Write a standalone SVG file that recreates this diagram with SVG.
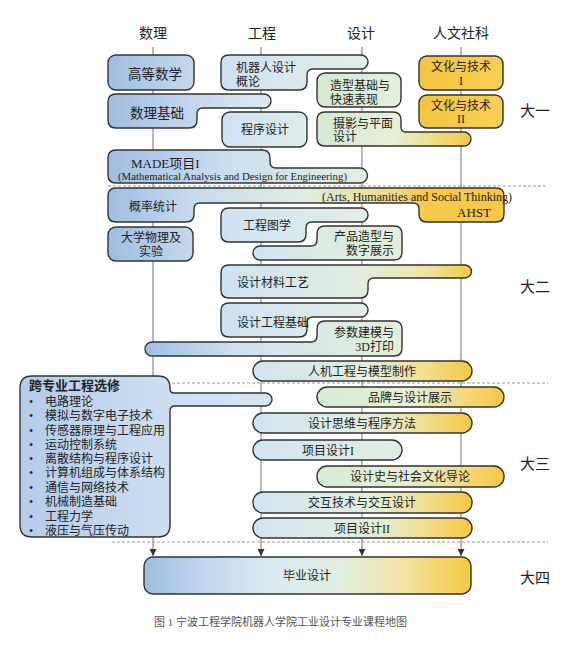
<svg xmlns="http://www.w3.org/2000/svg" width="586" height="652" viewBox="0 0 586 652">
<style>
.bx{stroke:#333;stroke-width:1.4}
.t{font-family:"Liberation Serif","Noto Sans CJK SC",sans-serif;font-size:12px;fill:#222}
.c{text-anchor:middle}
.e{text-anchor:end}
.h{font-size:14px}
.yr{font-size:15px}
.vl{stroke:#8a8a8a;stroke-width:1.2;fill:none}
.ds{stroke:#9a9a9a;stroke-width:1;stroke-dasharray:3 2;fill:none}
</style>
<defs>
<marker id="ah" viewBox="0 0 8 8" refX="8" refY="4" markerWidth="7" markerHeight="7" markerUnits="userSpaceOnUse" orient="auto"><path d="M0,0 L8,4 L0,8 z" fill="#333"/></marker>
<linearGradient id="gMath" x1="0" x2="1" y1="0" y2="0"><stop offset="0" stop-color="#9fbde2"/><stop offset="1" stop-color="#c4d8ee"/></linearGradient>
<linearGradient id="gEng" x1="0" x2="1" y1="0" y2="0"><stop offset="0" stop-color="#cfe2f3"/><stop offset="1" stop-color="#e0ecea"/></linearGradient>
<linearGradient id="gDes" x1="0" x2="1" y1="0" y2="0"><stop offset="0" stop-color="#d4e9d2"/><stop offset="1" stop-color="#e4f0dc"/></linearGradient>
<linearGradient id="gYel" x1="0" x2="1" y1="0" y2="0"><stop offset="0" stop-color="#f5c441"/><stop offset="1" stop-color="#f9cf57"/></linearGradient>
<linearGradient id="gRobot" gradientUnits="userSpaceOnUse" x1="221" x2="368" y1="0" y2="0"><stop offset="0" stop-color="#cde1f3"/><stop offset="1" stop-color="#e4efe5"/></linearGradient>
<linearGradient id="gShuli" gradientUnits="userSpaceOnUse" x1="108" x2="271" y1="0" y2="0"><stop offset="0" stop-color="#9fbde2"/><stop offset="0.5" stop-color="#c2d7ed"/><stop offset="1" stop-color="#dce9f3"/></linearGradient>
<linearGradient id="gMade" gradientUnits="userSpaceOnUse" x1="108" x2="367" y1="0" y2="0"><stop offset="0" stop-color="#9fbde2"/><stop offset="0.45" stop-color="#cadef0"/><stop offset="1" stop-color="#e3efe0"/></linearGradient>
<linearGradient id="gSheying" gradientUnits="userSpaceOnUse" x1="317" x2="471" y1="0" y2="0"><stop offset="0" stop-color="#d5e9d3"/><stop offset="0.5" stop-color="#e6f0d6"/><stop offset="0.8" stop-color="#f3d97a"/><stop offset="1" stop-color="#f6c843"/></linearGradient>
<linearGradient id="gGailv" gradientUnits="userSpaceOnUse" x1="108" x2="504" y1="0" y2="0"><stop offset="0" stop-color="#9fbde2"/><stop offset="0.22" stop-color="#c8dcef"/><stop offset="0.5" stop-color="#dfede2"/><stop offset="0.72" stop-color="#f1dc86"/><stop offset="0.8" stop-color="#f6c94b"/><stop offset="1" stop-color="#f7c845"/></linearGradient>
<linearGradient id="gGctx" gradientUnits="userSpaceOnUse" x1="221" x2="368" y1="0" y2="0"><stop offset="0" stop-color="#cfe2f3"/><stop offset="1" stop-color="#e2eee6"/></linearGradient>
<linearGradient id="gChanpin" gradientUnits="userSpaceOnUse" x1="253" x2="402" y1="0" y2="0"><stop offset="0" stop-color="#cee2f3"/><stop offset="0.5" stop-color="#dcebe2"/><stop offset="1" stop-color="#e2efd8"/></linearGradient>
<linearGradient id="gCailiao" gradientUnits="userSpaceOnUse" x1="221" x2="472" y1="0" y2="0"><stop offset="0" stop-color="#cfe2f3"/><stop offset="0.55" stop-color="#e0ede0"/><stop offset="0.8" stop-color="#eee7a9"/><stop offset="1" stop-color="#f6c843"/></linearGradient>
<linearGradient id="gCanshu" gradientUnits="userSpaceOnUse" x1="145" x2="402" y1="0" y2="0"><stop offset="0" stop-color="#a1bee3"/><stop offset="0.35" stop-color="#cfe1f1"/><stop offset="1" stop-color="#e2efd9"/></linearGradient>
<linearGradient id="gRenji" gradientUnits="userSpaceOnUse" x1="253" x2="472" y1="0" y2="0"><stop offset="0" stop-color="#d2e4f3"/><stop offset="0.55" stop-color="#e2efdc"/><stop offset="0.8" stop-color="#f2dd8a"/><stop offset="1" stop-color="#f6c843"/></linearGradient>
<linearGradient id="gKua" gradientUnits="userSpaceOnUse" x1="20" x2="272" y1="0" y2="0"><stop offset="0" stop-color="#b3cce9"/><stop offset="0.5" stop-color="#cadcf0"/><stop offset="1" stop-color="#d6e6f2"/></linearGradient>
<linearGradient id="gPinpai" gradientUnits="userSpaceOnUse" x1="317" x2="504" y1="0" y2="0"><stop offset="0" stop-color="#d6ead3"/><stop offset="0.5" stop-color="#e6f0d6"/><stop offset="0.8" stop-color="#f3d97a"/><stop offset="1" stop-color="#f6c843"/></linearGradient>
<linearGradient id="gXm1" gradientUnits="userSpaceOnUse" x1="253" x2="402" y1="0" y2="0"><stop offset="0" stop-color="#d2e4f3"/><stop offset="1" stop-color="#e0eee0"/></linearGradient>
<linearGradient id="gBiye" gradientUnits="userSpaceOnUse" x1="144" x2="471" y1="0" y2="0"><stop offset="0" stop-color="#9fbde2"/><stop offset="0.2" stop-color="#c4d9ee"/><stop offset="0.4" stop-color="#dbe9f2"/><stop offset="0.6" stop-color="#e0efe0"/><stop offset="0.8" stop-color="#f3e2a0"/><stop offset="1" stop-color="#f7c843"/></linearGradient>
</defs>
<rect width="586" height="652" fill="#fff"/>

<g id="headers" class="t h">
<text x="153" y="38" class="c">数理</text>
<text x="262" y="38" class="c">工程</text>
<text x="361" y="38" class="c">设计</text>
<text x="461" y="38" class="c">人文社科</text>
</g>

<g id="separators">
<line class="ds" x1="108" y1="186" x2="548" y2="186"/>
<line class="ds" x1="112" y1="383" x2="548" y2="383"/>
<line class="ds" x1="112" y1="542" x2="548" y2="542"/>
</g>

<g id="connectors">
<line class="vl" x1="153" y1="47" x2="153" y2="556" marker-end="url(#ah)"/>
<line class="vl" x1="261" y1="47" x2="261" y2="556" marker-end="url(#ah)"/>
<line class="vl" x1="362" y1="47" x2="362" y2="556" marker-end="url(#ah)"/>
<line class="vl" x1="461" y1="47" x2="461" y2="556" marker-end="url(#ah)"/>
</g>

<g id="gaodengshuxue"><rect class="bx" x="108" y="55" width="86" height="35" rx="8" fill="url(#gMath)"/><text class="t c" x="155" y="79" style="font-size:13.5px">高等数学</text></g>
<g id="jiqiren"><path class="bx" fill="url(#gRobot)" d="M229,55 H361 A7,7 0 0 1 361,69 H313 Q307,69 307,75 V82 Q307,90 299,90 H229 Q221,90 221,82 V63 Q221,55 229,55 Z"/><text class="t" x="236" y="72">机器人设计</text><text class="t" x="236" y="86">概论</text></g>
<g id="zaoxing"><rect class="bx" x="317" y="73" width="84" height="34" rx="8" fill="url(#gDes)"/><text class="t" x="330" y="90">造型基础与</text><text class="t" x="330" y="104">快速表现</text></g>
<g id="wenhua1"><rect class="bx" x="419" y="56" width="84" height="34" rx="8" fill="url(#gYel)"/><text class="t c" x="461" y="71">文化与技术</text><text class="t c" x="461" y="85">I</text></g>
<g id="wenhua2"><rect class="bx" x="419" y="95" width="84" height="33" rx="8" fill="url(#gYel)"/><text class="t c" x="461" y="110">文化与技术</text><text class="t c" x="461" y="123">II</text></g>
<g id="shulijichu"><path class="bx" fill="url(#gShuli)" d="M116,94 H264 A7,7 0 0 1 264,108 H203 Q197,108 197,114 V120 Q197,128 189,128 H116 Q108,128 108,120 V102 Q108,94 116,94 Z"/><text class="t" x="130" y="118" style="font-size:13.5px">数理基础</text></g>
<g id="chengxusheji"><rect class="bx" x="222" y="112" width="85" height="35" rx="8" fill="url(#gEng)"/><text class="t c" x="265" y="134">程序设计</text></g>
<g id="sheying"><path class="bx" fill="url(#gSheying)" d="M325,112 H393 Q401,112 401,120 V127 Q401,132 406,132 H464 A7,7 0 0 1 464,146 H325 Q317,146 317,138 V120 Q317,112 325,112 Z"/><text class="t" x="333" y="128">摄影与平面</text><text class="t" x="333" y="141">设计</text></g>
<g id="made"><path class="bx" fill="url(#gMade)" d="M116,150 H262 Q270,150 270,158 V162 Q270,168 276,168 H360 A7.5,7.5 0 0 1 360,183 H116 Q108,183 108,175 V158 Q108,150 116,150 Z"/><text class="t" x="131" y="168" style="font-size:13px">MADE项目I</text><text class="t" x="118" y="180" style="font-size:11px" textLength="229" lengthAdjust="spacingAndGlyphs">(Mathematical Analysis and Design for Engineering)</text></g>
<text class="t c yr" x="535" y="116">大一</text>

<g id="gailvtongji"><path class="bx" fill="url(#gGailv)" d="M116,188 H496 Q504,188 504,196 V214 Q504,222 496,222 H427 Q419,222 419,214 V209 Q419,203 413,203 H200 Q194,203 194,209 V214 Q194,222 186,222 H116 Q108,222 108,214 V196 Q108,188 116,188 Z"/><text class="t" x="129" y="211">概率统计</text><text class="t" x="322" y="201" textLength="190" lengthAdjust="spacingAndGlyphs">(Arts, Humanities and Social Thinking)</text><text class="t" x="457" y="217" style="font-size:13px">AHST</text></g>
<g id="daxuewuli"><rect class="bx" x="108" y="227" width="85" height="34" rx="8" fill="url(#gMath)"/><text class="t c" x="151" y="242">大学物理及</text><text class="t c" x="151" y="256">实验</text></g>
<g id="gongchengtuxue"><path class="bx" fill="url(#gGctx)" d="M229,208 H361 A7,7 0 0 1 361,222 H312 Q306,222 306,228 V234 Q306,242 298,242 H229 Q221,242 221,234 V216 Q221,208 229,208 Z"/><text class="t" x="243" y="230">工程图学</text></g>
<g id="chanpin"><path class="bx" fill="url(#gChanpin)" d="M325,226 H394 Q402,226 402,234 V252 Q402,260 394,260 H260 A7,7 0 0 1 260,246 H311 Q317,246 317,240 V234 Q317,226 325,226 Z"/><text class="t e" x="394" y="241">产品造型与</text><text class="t e" x="394" y="255">数字展示</text></g>
<g id="cailiao"><path class="bx" fill="url(#gCailiao)" d="M229,265 H465 A6.5,6.5 0 0 1 465,278 H374 Q368,278 368,284 V290 Q368,298 360,298 H229 Q221,298 221,290 V273 Q221,265 229,265 Z"/><text class="t" x="237" y="287">设计材料工艺</text></g>
<g id="gongchengjichu"><path class="bx" fill="url(#gGctx)" d="M229,303 H361 A7,7 0 0 1 361,317 H313 Q307,317 307,323 V329 Q307,337 299,337 H229 Q221,337 221,329 V311 Q221,303 229,303 Z"/><text class="t" x="237" y="327">设计工程基础</text></g>
<g id="canshu"><path class="bx" fill="url(#gCanshu)" d="M325,321 H394 Q402,321 402,329 V348 Q402,356 394,356 H152 A7,7 0 0 1 152,342 H311 Q317,342 317,336 V329 Q317,321 325,321 Z"/><text class="t e" x="394" y="337">参数建模与</text><text class="t e" x="394" y="351">3D打印</text></g>
<g id="renji"><rect class="bx" x="253" y="361" width="219" height="20" rx="10" fill="url(#gRenji)"/><text class="t c" x="362" y="376">人机工程与模型制作</text></g>
<text class="t c yr" x="535" y="292">大二</text>

<g id="kuazhuanye"><path class="bx" fill="url(#gKua)" d="M32,376 H158 Q170,376 170,388 V389 Q170,393 174,393 H265.5 A6.5,6.5 0 0 1 265.5,406 H175 Q170,406 170,411 V525 Q170,537 158,537 H32 Q20,537 20,525 V388 Q20,376 32,376 Z"/>
<text class="t" x="29" y="390" style="font-size:13px;font-weight:bold">跨专业工程选修</text>
<g class="t">
<text x="29" y="406">•</text><text x="45" y="406">电路理论</text>
<text x="29" y="420">•</text><text x="45" y="420">模拟与数字电子技术</text>
<text x="29" y="435">•</text><text x="45" y="435">传感器原理与工程应用</text>
<text x="29" y="449">•</text><text x="45" y="449">运动控制系统</text>
<text x="29" y="463">•</text><text x="45" y="463">离散结构与程序设计</text>
<text x="29" y="477">•</text><text x="45" y="477">计算机组成与体系结构</text>
<text x="29" y="492">•</text><text x="45" y="492">通信与网络技术</text>
<text x="29" y="506">•</text><text x="45" y="506">机械制造基础</text>
<text x="29" y="521">•</text><text x="45" y="521">工程力学</text>
<text x="29" y="535">•</text><text x="45" y="535">液压与气压传动</text>
</g></g>
<g id="pinpai"><rect class="bx" x="317" y="387" width="187" height="20" rx="10" fill="url(#gPinpai)"/><text class="t c" x="410" y="402">品牌与设计展示</text></g>
<g id="siwei"><rect class="bx" x="253" y="413" width="219" height="20" rx="10" fill="url(#gRenji)"/><text class="t c" x="362" y="428">设计思维与程序方法</text></g>
<g id="xiangmu1"><rect class="bx" x="253" y="440" width="149" height="20" rx="10" fill="url(#gXm1)"/><text class="t c" x="328" y="455">项目设计I</text></g>
<g id="shejishi"><rect class="bx" x="317" y="466" width="187" height="21" rx="10" fill="url(#gPinpai)"/><text class="t c" x="410" y="481">设计史与社会文化导论</text></g>
<g id="jiaohu"><rect class="bx" x="253" y="492" width="219" height="21" rx="10" fill="url(#gRenji)"/><text class="t c" x="362" y="507">交互技术与交互设计</text></g>
<g id="xiangmu2"><rect class="bx" x="253" y="518" width="219" height="20" rx="10" fill="url(#gRenji)"/><text class="t c" x="362" y="533">项目设计II</text></g>
<text class="t c yr" x="535" y="469">大三</text>

<g id="biye"><rect class="bx" x="144" y="557" width="327" height="37" rx="9" fill="url(#gBiye)"/><text class="t c" x="307" y="580">毕业设计</text></g>
<text class="t c yr" x="535" y="583">大四</text>

<text class="t" x="154" y="626" style="font-size:11px;fill:#555">图 1 宁波工程学院机器人学院工业设计专业课程地图</text>
</svg>
